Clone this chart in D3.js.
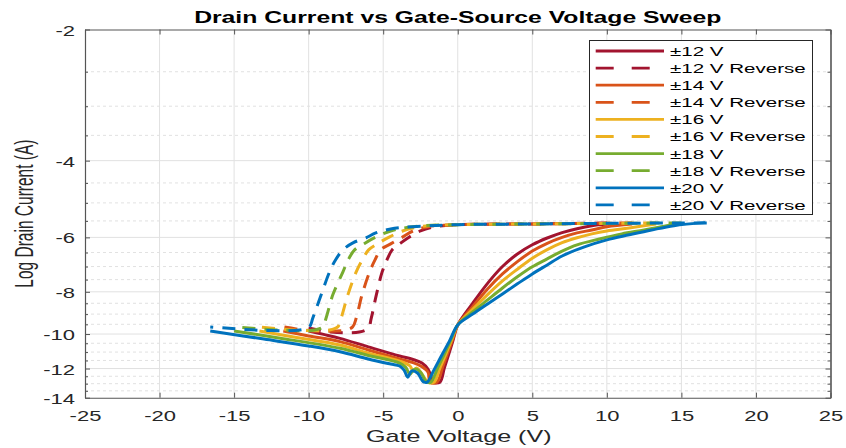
<!DOCTYPE html>
<html>
<head>
<meta charset="utf-8">
<script src="https://cdn.jsdelivr.net/npm/d3@7"></script>
<style>
  html, body { margin: 0; padding: 0; background: #fff; }
  svg { display: block; font-family: "Liberation Sans", Arial, Helvetica, sans-serif; }
</style>
</head>
<body>
<svg id="chart" width="846" height="448"></svg>
<script>
// ---- data ---------------------------------------------------------------
const seriesNames  = ["±12 V", "±14 V", "±16 V", "±18 V", "±20 V"];
const seriesColors = ["#A2142F", "#D95319", "#EDB120", "#77AC30", "#0072BD"];

const xTicks      = [-25, -20, -15, -10, -5, 0, 5, 10, 15, 20, 25];
const yTicks      = [-14, -12, -10, -8, -6, -4, -2];
const yMinorTicks = [-2.5, -3, -3.5, -4.5, -5, -5.5, -6.5, -7, -7.5, -8.5, -9, -9.5,
                     -10.5, -11, -11.5, -12.5, -13, -13.5];

// forward sweeps: [gate voltage (V), log drain current]
const fwd12 = [[-10,-9.84],[-9,-10.02],[-7.9,-10.23],[-6,-10.70],[-3.9,-11.23],[-3,-11.44],
  [-2.4,-11.66],[-2.0,-12.04],[-1.75,-12.62],[-1.65,-12.9],[-1.2,-12.9],[-0.9,-11.97],
  [-0.6,-11.12],[-0.3,-10.29],[0,-9.53],[1,-8.50],[2,-7.65],[3,-7.00],[4,-6.55],[5,-6.24],
  [6,-6.02],[7,-5.85],[8,-5.73],[9,-5.64],[10,-5.59]];
const fwd14 = [[-11.7,-9.84],[-10,-10.10],[-7.9,-10.41],[-6,-10.88],[-3.9,-11.41],[-3,-11.63],
  [-2.4,-11.88],[-2.0,-12.22],[-1.85,-12.9],[-1.4,-12.9],[-1.0,-11.87],[-0.6,-10.88],
  [-0.3,-10.20],[0,-9.53],[1,-8.65],[2,-7.88],[3,-7.28],[4,-6.82],[5,-6.45],[6,-6.19],
  [7,-6.00],[8,-5.86],[9,-5.77],[10,-5.67],[11.7,-5.59]];
const fwd16 = [[-13.3,-9.84],[-11,-10.16],[-7.9,-10.60],[-6,-11.06],[-3.9,-11.54],[-3.2,-11.84],
  [-3.0,-12.16],[-2.75,-11.97],[-2.35,-12.43],[-2.0,-12.9],[-1.6,-12.9],[-1.2,-11.97],
  [-0.8,-11.12],[-0.4,-10.29],[0,-9.53],[1,-8.78],[2,-8.12],[3,-7.55],[4,-7.10],[5,-6.70],
  [6,-6.40],[7,-6.17],[8,-6.01],[9,-5.89],[10,-5.80],[11.5,-5.71],[13.3,-5.59]];
const fwd18 = [[-15,-9.84],[-12,-10.21],[-7.9,-10.78],[-6,-11.20],[-3.9,-11.66],[-3.5,-11.91],
  [-3.2,-12.36],[-2.9,-12.04],[-2.5,-12.22],[-2.2,-12.76],[-2.05,-12.9],[-1.8,-12.9],
  [-1.35,-11.97],[-0.9,-11.12],[-0.45,-10.29],[0,-9.53],[1,-8.9],[2,-8.35],[3,-7.84],
  [4,-7.39],[5,-7.01],[6,-6.72],[7,-6.45],[8,-6.24],[9.5,-6.05],[11,-5.89],[12.5,-5.77],
  [14,-5.64],[15,-5.59]];
const fwd20 = [[-16.6,-9.84],[-13,-10.27],[-10,-10.65],[-7.9,-10.98],[-6,-11.41],[-4.5,-11.72],
  [-3.9,-11.84],[-3.6,-12.10],[-3.35,-12.56],[-3.1,-12.16],[-2.7,-12.29],[-2.4,-12.76],
  [-2.25,-12.9],[-2.05,-12.9],[-1.6,-12.1],[-1.1,-11.23],[-0.55,-10.37],[0,-9.53],
  [1,-9.0],[2,-8.53],[3,-8.09],[4,-7.67],[5,-7.28],[6,-6.94],[7,-6.62],[8.5,-6.31],
  [10,-6.08],[11.5,-5.92],[13,-5.77],[14.5,-5.64],[16.6,-5.55]];

// reverse sweeps
const rev12 = [[10,-5.56],[5,-5.59],[0,-5.61],[-1.5,-5.67],[-2.5,-5.80],[-3.32,-6.01],
  [-3.9,-6.21],[-4.4,-6.41],[-4.75,-6.76],[-5.07,-7.20],[-5.46,-8.13],[-5.8,-9.19],
  [-6.0,-9.69],[-6.6,-9.89],[-8.5,-9.89],[-10,-9.69]];
const rev14 = [[11.7,-5.56],[5,-5.59],[0,-5.61],[-2,-5.67],[-3,-5.80],[-3.77,-6.01],
  [-4.5,-6.21],[-5.17,-6.41],[-5.55,-6.76],[-5.91,-7.20],[-6.42,-8.13],[-6.81,-9.19],
  [-7.05,-9.63],[-7.6,-9.81],[-10,-9.81],[-11.7,-9.63]];
const rev16 = [[13.3,-5.56],[5,-5.59],[0,-5.61],[-2.5,-5.67],[-3.7,-5.80],[-4.67,-6.01],
  [-5.4,-6.21],[-5.98,-6.41],[-6.4,-6.76],[-6.81,-7.20],[-7.37,-8.13],[-7.82,-9.19],
  [-8.05,-9.63],[-8.6,-9.79],[-11,-9.79],[-13.3,-9.63]];
const rev18 = [[15,-5.56],[5,-5.59],[0,-5.61],[-3,-5.67],[-4.5,-5.80],[-5.57,-6.01],
  [-6.3,-6.21],[-6.92,-6.41],[-7.35,-6.76],[-7.7,-7.20],[-8.38,-8.13],[-8.83,-9.19],
  [-9.05,-9.63],[-9.6,-9.79],[-12,-9.79],[-15,-9.63]];
const rev20 = [[16.7,-5.56],[10,-5.57],[5,-5.59],[0,-5.61],[-3,-5.67],[-4.5,-5.74],
  [-5.5,-5.86],[-6.13,-6.01],[-7.0,-6.17],[-7.7,-6.41],[-8.2,-6.76],[-8.6,-7.20],
  [-9.16,-8.13],[-9.72,-9.19],[-9.95,-9.63],[-10.6,-9.79],[-13,-9.81],[-16.6,-9.63]];

const forwardSweeps = [fwd12, fwd14, fwd16, fwd18, fwd20];
const reverseSweeps = [rev12, rev14, rev16, rev18, rev20];

// ---- layout -------------------------------------------------------------
const plot = { left: 85, right: 830.5, top: 29.5, bottom: 397.7 };
const ink = "#262626";
const SX = 1.42;   // horizontal text widening used throughout the figure

const svg = d3.select("#chart");
const x = d3.scaleLinear().domain([-25, 25]).range([plot.left, plot.right]);
const y = d3.scaleLog().domain([-2, -14]).range([plot.top, plot.bottom]);

// ---- grid ---------------------------------------------------------------
const grid = svg.append("g");
grid.selectAll("line.ymin").data(yMinorTicks).join("line")
  .attr("x1", plot.left).attr("x2", plot.right)
  .attr("y1", d => y(d)).attr("y2", d => y(d))
  .attr("stroke", "#d9d9d9").attr("stroke-width", 0.8).attr("stroke-dasharray", "3,3");
grid.selectAll("line.ymaj").data(yTicks.filter(d => d !== -2 && d !== -14)).join("line")
  .attr("x1", plot.left).attr("x2", plot.right)
  .attr("y1", d => y(d)).attr("y2", d => y(d))
  .attr("stroke", "#e1e1e1").attr("stroke-width", 1);
grid.selectAll("line.xmaj").data(xTicks.filter(d => d !== -25 && d !== 25)).join("line")
  .attr("x1", d => x(d)).attr("x2", d => x(d))
  .attr("y1", plot.top).attr("y2", plot.bottom)
  .attr("stroke", "#e1e1e1").attr("stroke-width", 1);

// ---- curves -------------------------------------------------------------
svg.append("clipPath").attr("id", "plotClip").append("rect")
  .attr("x", plot.left).attr("y", plot.top)
  .attr("width", plot.right - plot.left).attr("height", plot.bottom - plot.top);

const line = d3.line()
  .x(d => x(d[0])).y(d => y(d[1]))
  .curve(d3.curveCatmullRom.alpha(0.5));

const curves = svg.append("g").attr("clip-path", "url(#plotClip)");
seriesNames.forEach((name, i) => {
  curves.append("path").datum(forwardSweeps[i])
    .attr("d", line).attr("fill", "none")
    .attr("stroke", seriesColors[i]).attr("stroke-width", 3)
    .attr("stroke-linejoin", "round");
  curves.append("path").datum(reverseSweeps[i])
    .attr("d", line).attr("fill", "none")
    .attr("stroke", seriesColors[i]).attr("stroke-width", 3)
    .attr("stroke-dasharray", "13,9");
});

// ---- axes ---------------------------------------------------------------
function styleAxis(g) {
  g.select(".domain").attr("stroke", "#555").attr("stroke-width", 1.1);
  g.selectAll(".tick line").attr("stroke", "#555").attr("stroke-width", 1);
}

const gx = svg.append("g").attr("transform", `translate(0,${plot.bottom})`)
  .call(d3.axisBottom(x).tickValues(xTicks).tickFormat(d => String(d))
    .tickSizeInner(-5).tickSizeOuter(0));
styleAxis(gx);
gx.selectAll(".tick text")
  .attr("y", null).attr("dy", null)
  .attr("transform", `translate(0,23) scale(${SX},1)`)
  .attr("fill", ink).attr("font-size", "15.5px")
  .attr("font-family", "Liberation Sans, Arial, sans-serif");

const gTop = svg.append("g").attr("transform", `translate(0,${plot.top})`)
  .call(d3.axisTop(x).tickValues(xTicks).tickFormat("").tickSizeInner(-5).tickSizeOuter(0));
styleAxis(gTop);

const gy = svg.append("g").attr("transform", `translate(${plot.left},0)`)
  .call(d3.axisLeft(y).tickValues(yTicks).tickFormat(d => String(d))
    .tickSizeInner(-5).tickSizeOuter(0));
styleAxis(gy);
gy.selectAll(".tick text")
  .attr("x", null).attr("dy", null)
  .attr("transform", `translate(-10,5.5) scale(${SX},1)`)
  .attr("text-anchor", "end")
  .attr("fill", ink).attr("font-size", "15.5px")
  .attr("font-family", "Liberation Sans, Arial, sans-serif");

const gyMinor = svg.append("g").attr("transform", `translate(${plot.left},0)`)
  .call(d3.axisLeft(y).tickValues(yMinorTicks).tickFormat("").tickSizeInner(-3).tickSizeOuter(0));
styleAxis(gyMinor);

const gr = svg.append("g").attr("transform", `translate(${plot.right},0)`)
  .call(d3.axisRight(y).tickValues(yTicks).tickFormat("").tickSizeInner(-5).tickSizeOuter(0));
styleAxis(gr);
const grMinor = svg.append("g").attr("transform", `translate(${plot.right},0)`)
  .call(d3.axisRight(y).tickValues(yMinorTicks).tickFormat("").tickSizeInner(-3).tickSizeOuter(0));
styleAxis(grMinor);

// ---- titles -------------------------------------------------------------
const cx = (plot.left + plot.right) / 2;
svg.append("text")
  .attr("transform", `translate(${cx},23.3) scale(1.5,1)`)
  .attr("text-anchor", "middle").attr("font-weight", "bold")
  .attr("font-size", "16.5px").attr("fill", "#000")
  .text("Drain Current vs Gate-Source Voltage Sweep");

svg.append("text")
  .attr("transform", `translate(${cx + 1},441.7) scale(1.57,1)`)
  .attr("text-anchor", "middle").attr("font-size", "16px").attr("fill", ink)
  .text("Gate Voltage (V)");

svg.append("text")
  .attr("transform", `translate(33,${(plot.top + plot.bottom) / 2}) scale(1.7,1) rotate(-90)`)
  .attr("text-anchor", "middle").attr("font-size", "15.5px").attr("fill", ink)
  .text("Log Drain Current (A)");

// ---- legend -------------------------------------------------------------
const legend = svg.append("g");
legend.append("rect")
  .attr("x", 589.5).attr("y", 40.5).attr("width", 223).attr("height", 174)
  .attr("fill", "#fff").attr("stroke", ink).attr("stroke-width", 1);

const legendRows = [];
seriesNames.forEach((name, i) => {
  legendRows.push({ label: name, color: seriesColors[i], dashed: false });
  legendRows.push({ label: name + " Reverse", color: seriesColors[i], dashed: true });
});

legendRows.forEach((row, k) => {
  const cy = 51 + k * 17.1;
  legend.append("line")
    .attr("x1", 595.7).attr("x2", row.dashed ? 650 : 664)
    .attr("y1", cy).attr("y2", cy)
    .attr("stroke", row.color).attr("stroke-width", 2.8)
    .attr("stroke-dasharray", row.dashed ? "18,18" : null);
  legend.append("text")
    .attr("transform", `translate(670,${cy + 4.9}) scale(1.5,1)`)
    .attr("font-size", "13.7px").attr("fill", "#000")
    .text(row.label);
});
</script>
</body>
</html>
